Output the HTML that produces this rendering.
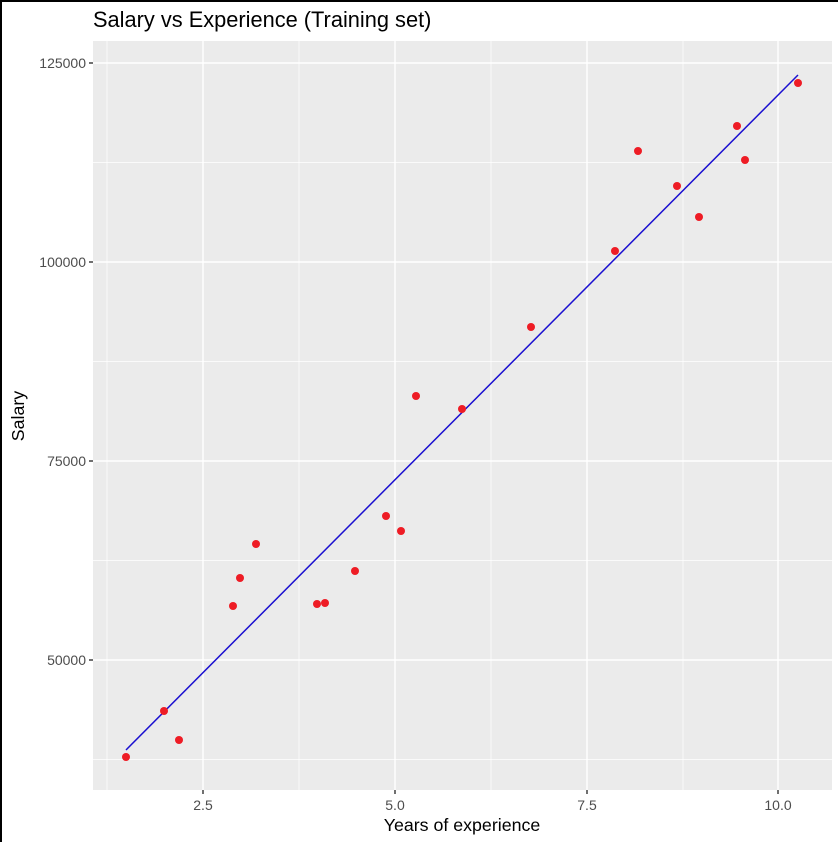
<!DOCTYPE html>
<html><head><style>body{margin:0;background:#fff}svg{display:block}</style></head><body>
<svg width="838" height="842" xmlns="http://www.w3.org/2000/svg" font-family="Liberation Sans, sans-serif">
<rect width="838" height="842" fill="#fff"/>
<rect x="0" y="0" width="2" height="842" fill="#000"/>
<rect x="0" y="0" width="838" height="2" fill="#000"/>
<rect x="93" y="41" width="739" height="749" fill="#ebebeb"/>
<g stroke="#fff" stroke-width="0.7">
<line x1="107" x2="107" y1="41" y2="790"/><line x1="299" x2="299" y1="41" y2="790"/><line x1="491" x2="491" y1="41" y2="790"/><line x1="683" x2="683" y1="41" y2="790"/>
<line x1="93" x2="832" y1="162.5" y2="162.5"/><line x1="93" x2="832" y1="361.5" y2="361.5"/><line x1="93" x2="832" y1="560.5" y2="560.5"/><line x1="93" x2="832" y1="759.5" y2="759.5"/>
</g>
<g stroke="#fff" stroke-width="1.4">
<line x1="203" x2="203" y1="41" y2="790"/><line x1="395" x2="395" y1="41" y2="790"/><line x1="587" x2="587" y1="41" y2="790"/><line x1="778" x2="778" y1="41" y2="790"/>
<line x1="93" x2="832" y1="63" y2="63"/><line x1="93" x2="832" y1="262" y2="262"/><line x1="93" x2="832" y1="461" y2="461"/><line x1="93" x2="832" y1="660" y2="660"/>
</g>
<g stroke="#333" stroke-width="1.4">
<line x1="89" x2="93" y1="63" y2="63"/><line x1="89" x2="93" y1="262" y2="262"/><line x1="89" x2="93" y1="461" y2="461"/><line x1="89" x2="93" y1="660" y2="660"/>
<line x1="203" x2="203" y1="790" y2="794"/><line x1="395" x2="395" y1="790" y2="794"/><line x1="587" x2="587" y1="790" y2="794"/><line x1="778" x2="778" y1="790" y2="794"/>
</g>
<g fill="#4d4d4d" font-size="14" text-anchor="end">
<text x="86" y="68">125000</text><text x="86" y="267">100000</text><text x="86" y="466">75000</text><text x="86" y="665">50000</text>
</g>
<g fill="#4d4d4d" font-size="14" text-anchor="middle">
<text x="203" y="810">2.5</text><text x="395" y="810">5.0</text><text x="587" y="810">7.5</text><text x="778" y="810">10.0</text>
</g>
<text x="462" y="831" font-size="17.8" text-anchor="middle" fill="#000">Years of experience</text>
<text transform="translate(24,416) rotate(-90)" font-size="17.8" text-anchor="middle" fill="#000">Salary</text>
<text x="93" y="27" font-size="21.8" fill="#000">Salary vs Experience (Training set)</text>
<line x1="126" y1="750" x2="798" y2="75" stroke="#1a0fd0" stroke-width="1.5"/>
<g fill="#ee1c25">
<circle cx="126" cy="757" r="4"/><circle cx="164" cy="711" r="4"/><circle cx="179" cy="740" r="4"/><circle cx="233" cy="606" r="4"/><circle cx="240" cy="578" r="4"/><circle cx="256" cy="544" r="4"/><circle cx="317" cy="604" r="4"/><circle cx="325" cy="603" r="4"/><circle cx="355" cy="571" r="4"/><circle cx="386" cy="516" r="4"/><circle cx="401" cy="531" r="4"/><circle cx="416" cy="396" r="4"/><circle cx="462" cy="409" r="4"/><circle cx="531" cy="327" r="4"/><circle cx="615" cy="251" r="4"/><circle cx="638" cy="151" r="4"/><circle cx="677" cy="186" r="4"/><circle cx="699" cy="217" r="4"/><circle cx="737" cy="126" r="4"/><circle cx="745" cy="160" r="4"/><circle cx="798" cy="83" r="4"/>
</g>
</svg>
</body></html>
